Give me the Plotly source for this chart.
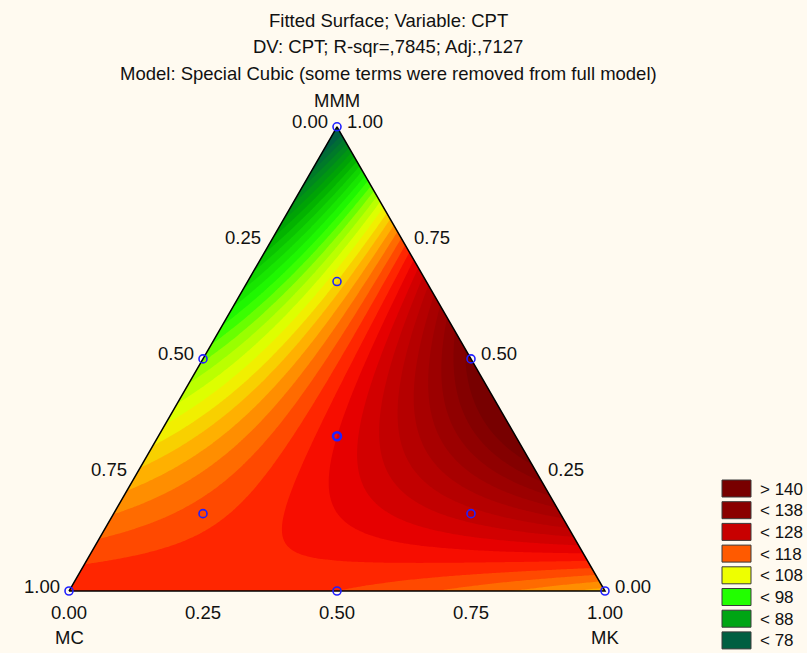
import numpy as np
import plotly.graph_objects as go

# ---------------- data ----------------
# Fitted special cubic model (estimated coefficients); components MC, MK, MMM
coef_mc = 122.0
coef_mk = 113.0
coef_mmm = 74.0
coef_mc_mk = 10.0
coef_mc_mmm = 14.0
coef_mk_mmm = 190.0
coef_mc_mk_mmm = -75.0

# design points (mixture proportions)
design_mc = [1, 0, 0, 0.5, 0.5, 0, 1/3, 2/3, 1/6, 1/6]
design_mk = [0, 1, 0, 0.5, 0, 0.5, 1/3, 1/6, 2/3, 1/6]
design_mmm = [0, 0, 1, 0, 0.5, 0.5, 1/3, 1/6, 1/6, 2/3]
design_reps = [1, 1, 1, 1, 1, 1, 2, 1, 1, 1]

tick_vals = [0.0, 0.25, 0.5, 0.75, 1.0]
tick_text = ["0.00", "0.25", "0.50", "0.75", "1.00"]

legend_labels = ["> 140", "< 138", "< 128", "< 118", "< 108", "< 98", "< 88", "< 78"]
legend_colors = ["#780000", "#8a0000", "#c80000", "#ff5a00", "#eeff00", "#22ff00", "#00a514", "#005f41"]

level_start, level_end, level_size = 78, 140, 2
# colour anchors (value, colour)
anchor_vals = [77, 88, 98, 103, 108, 113, 118, 122, 125, 128, 133, 138, 141]
anchor_cols = ["#005f41", "#00aa00", "#22ff00", "#99ff00", "#eeff00", "#ffb000",
               "#ff5a00", "#ff1400", "#e60000", "#c80000", "#a80000", "#8a0000", "#780000"]

title_lines = ["Fitted Surface; Variable: CPT",
               "DV: CPT; R-sqr=,7845; Adj:,7127",
               "Model: Special Cubic (some terms were removed from full model)"]

# ---------------- geometry ----------------
W, H = 807, 653
h = np.sqrt(3) / 2
PX = 536.0                 # pixels per unit
X0PX, Y0PX = 69.0, 591.0   # pixel position of MC vertex
xr = [-X0PX / PX, (W - X0PX) / PX]
yr = [(Y0PX - H) / PX, Y0PX / PX]

def to_xy(mk, mmm):
    return mk + mmm / 2.0, mmm * h

def px2paper(px, py):
    return px / W, 1 - py / H

# ---------------- surface ----------------
xs = np.linspace(-0.02, 1.02, 261)
ys = np.linspace(-0.02, h + 0.02, 241)
XX, YY = np.meshgrid(xs, ys)
MMM = YY / h
MK = XX - MMM / 2
MC = 1 - MK - MMM
Z = (coef_mc * MC + coef_mk * MK + coef_mmm * MMM
     + coef_mc_mk * MC * MK + coef_mc_mmm * MC * MMM + coef_mk_mmm * MK * MMM
     + coef_mc_mk_mmm * MC * MK * MMM)

nc = int(np.floor((level_end - level_start) / level_size)) + 1
lo = level_start - level_size / 2
hi = level_start + (nc - 0.5) * level_size
colorscale = [[(v - lo) / (hi - lo), c] for v, c in zip(anchor_vals, anchor_cols)]
colorscale[0][0] = 0.0
colorscale[-1][0] = 1.0

bg = "#fffaf0"
fig = go.Figure()
fig.add_trace(go.Contour(
    x=xs, y=ys, z=Z,
    contours=dict(start=level_start, end=level_end, size=level_size,
                  coloring="fill", showlines=False),
    colorscale=colorscale, showscale=False, line_width=0, hoverinfo="skip"))

# masks outside the triangle
fig.add_trace(go.Scatter(
    x=[0, 0.5, 0.5, -0.5, -0.5, 1.8, 1.8, 0],
    y=[0, h, 1.5, 1.5, -0.5, -0.5, 0, 0],
    fill="toself", fillcolor=bg, mode="none", hoverinfo="skip", showlegend=False))
fig.add_trace(go.Scatter(
    x=[1, 0.5, 0.5, 1.8, 1.8, 1],
    y=[0, h, 1.5, 1.5, 0, 0],
    fill="toself", fillcolor=bg, mode="none", hoverinfo="skip", showlegend=False))

# triangle outline
fig.add_trace(go.Scatter(
    x=[0, 1, 0.5, 0], y=[0, 0, h, 0], mode="lines",
    line=dict(color="black", width=1.5), hoverinfo="skip", showlegend=False))

# design points
dx, dy = to_xy(np.array(design_mk), np.array(design_mmm))
fig.add_trace(go.Scatter(
    x=dx, y=dy, mode="markers",
    marker=dict(symbol="circle-open", size=8, color="#2020ff",
                line=dict(width=[1.6 if r == 1 else 2.6 for r in design_reps])),
    hoverinfo="skip", showlegend=False))

ann = []
font = dict(family="Liberation Sans, Arial, sans-serif", size=18.5, color="#111111")
# bottom axis (MK)
for v, t in zip(tick_vals, tick_text):
    x, y = to_xy(v, 0)
    ann.append(dict(x=x, y=y, text=t, showarrow=False, xanchor="center", yanchor="middle",
                    yshift=-21, font=font))
# left edge (MC)
for v, t in zip(tick_vals, tick_text):
    x, y = to_xy(0, 1 - v)
    ann.append(dict(x=x, y=y, text=t, showarrow=False, xanchor="right", yanchor="middle",
                    xshift=-7, yshift=5, font=font))
# right edge (MMM)
for v, t in zip(tick_vals, tick_text):
    x, y = to_xy(1 - v, v)
    ann.append(dict(x=x, y=y, text=t, showarrow=False, xanchor="left", yanchor="middle",
                    xshift=8, yshift=5, font=font))
# component names
for name, (mk, mmm), ys_ in [("MMM", (0, 1), 26), ("MC", (0, 0), -46), ("MK", (1, 0), -46)]:
    x, y = to_xy(mk, mmm)
    ann.append(dict(x=x, y=y, text=name, showarrow=False, xanchor="center", yanchor="middle",
                    yshift=ys_, font=font))
# titles
for i, line in enumerate(title_lines):
    px_, py_ = px2paper(388, 20 + 26.5 * i)
    ann.append(dict(x=px_, y=py_, xref="paper", yref="paper", text=line, showarrow=False,
                    xanchor="center", yanchor="middle", font=font))

# legend (kept just inside the right edge)
leg_font = dict(family="Liberation Sans, Arial, sans-serif", size=17, color="#111111")
shapes = []
for i, (lab, col) in enumerate(zip(legend_labels, legend_colors)):
    top = 480 + 21.7 * i
    x0p, y0p = px2paper(722, top)
    x1p, y1p = px2paper(751, top + 17)
    shapes.append(dict(type="rect", xref="paper", yref="paper", x0=x0p, x1=x1p, y0=y1p, y1=y0p,
                       fillcolor=col, line=dict(color="#3a3a3a", width=1)))
    tx, ty = px2paper(758, top + 9)
    ann.append(dict(x=tx, y=ty, xref="paper", yref="paper", text=lab, showarrow=False,
                    xanchor="left", yanchor="middle", font=leg_font))

fig.update_layout(
    width=W, height=H, margin=dict(l=0, r=0, t=0, b=0),
    paper_bgcolor=bg, plot_bgcolor=bg,
    xaxis=dict(range=xr, visible=False, fixedrange=True),
    yaxis=dict(range=yr, visible=False, fixedrange=True),
    annotations=ann, shapes=shapes, showlegend=False)

fig.write_html("out.html")
